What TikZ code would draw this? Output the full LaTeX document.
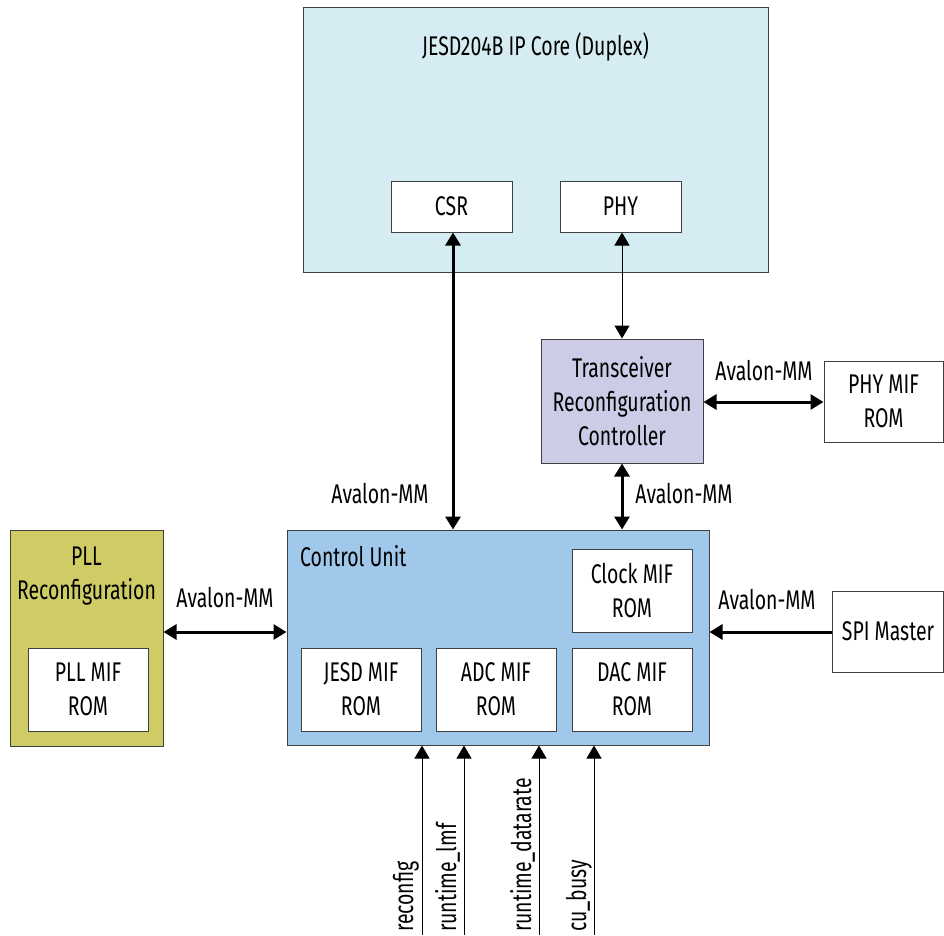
\documentclass[tikz,border=0pt]{standalone}
\usepackage{fontspec}
\setmainfont[FakeStretch=0.72]{Fira Sans}
\usetikzlibrary{arrows.meta}
\definecolor{jesdfill}{HTML}{D5ECF3}
\definecolor{xcvrfill}{HTML}{CDCCE6}
\definecolor{cufill}{HTML}{A0C8EA}
\definecolor{pllfill}{HTML}{CFCC66}
\definecolor{edge}{HTML}{404040}
\tikzset{
  blk/.style={draw=edge, line width=1pt, rectangle, inner sep=0pt, align=center, font=\fontsize{27}{34}\selectfont},
  wbox/.style={blk, fill=white},
  lbl/.style={inner sep=0pt, font=\fontsize{27}{34}\selectfont, align=center},
  thickarr/.style={line width=3pt, {Triangle[width=15pt,length=13pt]}-{Triangle[width=15pt,length=13pt]}},
  thinarr/.style={line width=1pt, {Triangle[width=15pt,length=13pt]}-{Triangle[width=15pt,length=13pt]}},
  onearr/.style={line width=1pt, -{Triangle[width=15pt,length=13pt]}},
  onethick/.style={line width=3pt, -{Triangle[width=15pt,length=13pt]}},
}
\begin{document}
\begin{tikzpicture}[x=1pt,y=-1pt]
\useasboundingbox (0,0) rectangle (944,935);
% JESD204B core
\node[blk, fill=jesdfill, minimum width=465pt, minimum height=265pt] (jesd) at (535.5,139.5) {};
\node[lbl] (jesdt) at (535.5,47) {JESD204B IP Core (Duplex)};
\node[wbox, minimum width=121pt, minimum height=51pt] (csr) at (451.5,206.5) {CSR};
\node[wbox, minimum width=121pt, minimum height=51pt] (phy) at (620.5,206.5) {PHY};
% Transceiver reconfig controller
\node[blk, fill=xcvrfill, minimum width=162pt, minimum height=124pt] (xcvr) at (622,401) {Transceiver\\Reconfiguration\\Controller};
\node[wbox, minimum width=119pt, minimum height=81pt] (phymif) at (883.5,401.5) {PHY MIF\\ROM};
% Control unit
\node[blk, fill=cufill, minimum width=422pt, minimum height=215pt] (cu) at (498,637.5) {};
\node[lbl, anchor=west] (cut) at (300,556) {Control Unit};
\node[wbox, minimum width=120pt, minimum height=83pt] (clock) at (632,590.5) {Clock MIF\\ROM};
\node[wbox, minimum width=120pt, minimum height=83pt] (jesdmif) at (361,689.5) {JESD MIF\\ROM};
\node[wbox, minimum width=120pt, minimum height=83pt] (adcmif) at (496,689.5) {ADC MIF\\ROM};
\node[wbox, minimum width=120pt, minimum height=83pt] (dacmif) at (632,689.5) {DAC MIF\\ROM};
% PLL reconfiguration
\node[blk, fill=pllfill, minimum width=153pt, minimum height=216pt] (pll) at (86.5,638) {};
\node[lbl] (pllt) at (86.5,576) {PLL\\Reconfiguration};
\node[wbox, minimum width=120pt, minimum height=83pt] (pllmif) at (88,689.5) {PLL MIF\\ROM};
% SPI master
\node[wbox, minimum width=111pt, minimum height=81pt] (spi) at (888,631.5) {SPI Master};
% connectors
\coordinate (ycsr) at (453,0);
\draw[thickarr] (csr.south -| ycsr) -- (cu.north -| ycsr);
\draw[thinarr] (phy.south -| xcvr.north) -- (xcvr.north);
\draw[thickarr] (xcvr.south) -- (cu.north -| xcvr.south);
\coordinate (yphy) at (0,402);
\draw[thickarr] (xcvr.east |- yphy) -- (phymif.west |- yphy);
\coordinate (ycu) at (0,632);
\draw[thickarr] (pll.east |- ycu) -- (cu.west |- ycu);
\draw[onethick] (spi.west |- ycu) -- (cu.east |- ycu);
% labels
\node[lbl] (l1) at (380,494) {Avalon-MM};
\node[lbl] (l2) at (684,494) {Avalon-MM};
\node[lbl] (l3) at (764,371) {Avalon-MM};
\node[lbl] (l4) at (225,598) {Avalon-MM};
\node[lbl] (l5) at (767,600) {Avalon-MM};
% bottom signals
\coordinate (s1) at (422,935);
\coordinate (s2) at (464,935);
\coordinate (s3) at (539,935);
\coordinate (s4) at (594,935);
\draw[onearr] (s1) -- (cu.south -| s1);
\draw[onearr] (s2) -- (cu.south -| s2);
\draw[onearr] (s3) -- (cu.south -| s3);
\draw[onearr] (s4) -- (cu.south -| s4);
\node[lbl, rotate=90, anchor=base west] (t1) at (413,932) {reconfig};
\node[lbl, rotate=90, anchor=base west] (t2) at (456,932) {runtime\_lmf};
\node[lbl, rotate=90, anchor=base west] (t3) at (531,932) {runtime\_datarate};
\node[lbl, rotate=90, anchor=base west] (t4) at (586,932) {cu\_busy};
\end{tikzpicture}
\end{document}
